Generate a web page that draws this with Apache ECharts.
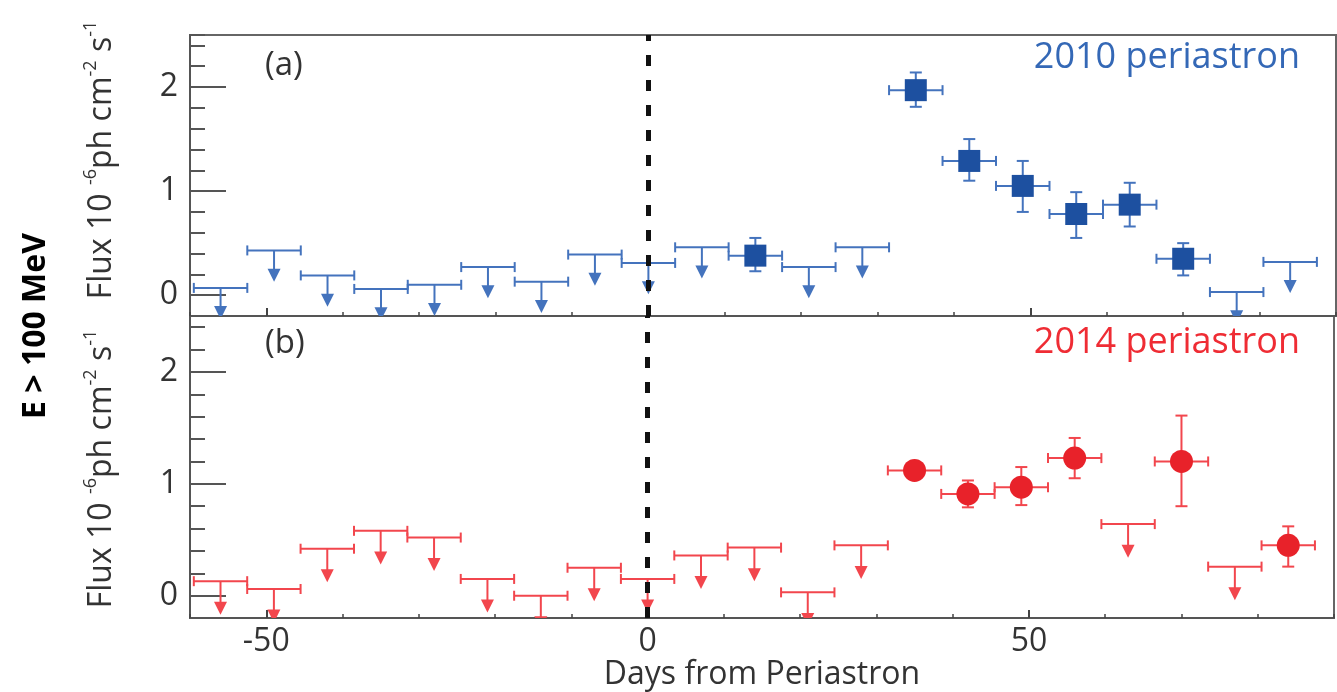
<!DOCTYPE html>
<html>
<head>
<meta charset="utf-8">
<script src="https://cdn.jsdelivr.net/npm/echarts@6/dist/echarts.min.js"></script>
<style>
  html, body { margin: 0; padding: 0; background: #fff; }
  #main { width: 1337px; height: 692px; }
</style>
</head>
<body>
<div id="main"></div>
<script>
// 7-day bins, centres in days from periastron
const binHalf = 3.5

// 2010 periastron: upper limits and detections
const ulDays2010 = [-56, -49, -42, -35, -28, -21, -14, -7, 0, 7, 21, 28, 77, 84]
const ulFlux2010 = [0.07, 0.43, 0.19, 0.06, 0.10, 0.27, 0.13, 0.39, 0.31, 0.46, 0.27, 0.46, 0.03, 0.32]
const detDays2010 = [14, 35, 42, 49, 56, 63, 70]
const detFlux2010 = [0.38, 1.97, 1.29, 1.05, 0.78, 0.87, 0.35]
const errUp2010 = [0.17, 0.17, 0.21, 0.24, 0.21, 0.21, 0.15]
const errDown2010 = [0.15, 0.16, 0.19, 0.25, 0.23, 0.21, 0.16]

// 2014 periastron
const ulDays2014 = [-56, -49, -42, -35, -28, -21, -14, -7, 0, 7, 14, 21, 28, 63, 77]
const ulFlux2014 = [0.13, 0.06, 0.42, 0.58, 0.52, 0.15, 0.00, 0.25, 0.15, 0.36, 0.43, 0.03, 0.45, 0.64, 0.26]
const detDays2014 = [35, 42, 49, 56, 70, 84]
const detFlux2014 = [1.12, 0.91, 0.97, 1.23, 1.20, 0.45]
const errUp2014 = [0.05, 0.12, 0.18, 0.18, 0.41, 0.17]
const errDown2014 = [0.05, 0.12, 0.16, 0.18, 0.40, 0.19]

const xTicksMajor = [-50, 0, 50]
const yTicksMajor = [0, 1, 2]
const arrowLen = 0.3 // length of the upper-limit arrow, flux units

const blueLine = '#4473bd'
const blueMark = '#1d50a0'
const redLine = '#f2464d'
const redMark = '#e8222a'
const font = 'Open Sans'

const chart = echarts.init(document.getElementById('main'))

function ulItem(color) {
  return (params, api) => {
    const x = api.value(0)
    const y = api.value(1)
    const a = api.coord([x - binHalf, y])
    const b = api.coord([x + binHalf, y])
    const c = api.coord([x, y])
    const tip = api.coord([x, y - arrowLen])
    const st = { stroke: color, lineWidth: 2 }
    return {
      type: 'group',
      children: [
        { type: 'line', shape: { x1: a[0], y1: a[1], x2: b[0], y2: b[1] }, style: st },
        { type: 'line', shape: { x1: a[0], y1: a[1] - 5, x2: a[0], y2: a[1] + 5 }, style: st },
        { type: 'line', shape: { x1: b[0], y1: b[1] - 5, x2: b[0], y2: b[1] + 5 }, style: st },
        { type: 'line', shape: { x1: c[0], y1: c[1], x2: tip[0], y2: tip[1] - 10 }, style: st },
        { type: 'polygon', shape: { points: [[tip[0] - 6.5, tip[1] - 13], [tip[0] + 6.5, tip[1] - 13], [tip[0], tip[1]]] }, style: { fill: color } },
      ],
    }
  }
}

function errItem(color) {
  return (params, api) => {
    const x = api.value(0)
    const y = api.value(1)
    const a = api.coord([x - binHalf, y])
    const b = api.coord([x + binHalf, y])
    const lo = api.coord([x, y - api.value(2)])
    const hi = api.coord([x, y + api.value(3)])
    const st = { stroke: color, lineWidth: 2 }
    return {
      type: 'group',
      children: [
        { type: 'line', shape: { x1: a[0], y1: a[1], x2: b[0], y2: b[1] }, style: st },
        { type: 'line', shape: { x1: a[0], y1: a[1] - 5, x2: a[0], y2: a[1] + 5 }, style: st },
        { type: 'line', shape: { x1: b[0], y1: b[1] - 5, x2: b[0], y2: b[1] + 5 }, style: st },
        { type: 'line', shape: { x1: lo[0], y1: lo[1], x2: hi[0], y2: hi[1] }, style: st },
        { type: 'line', shape: { x1: lo[0] - 6, y1: lo[1], x2: lo[0] + 6, y2: lo[1] }, style: st },
        { type: 'line', shape: { x1: hi[0] - 6, y1: hi[1], x2: hi[0] + 6, y2: hi[1] }, style: st },
      ],
    }
  }
}

const intLabel = (v) => (Math.abs(v - Math.round(v)) < 1e-6 ? String(Math.round(v)) : '')

function xAxes(grid, labels) {
  return [
    {
      type: 'value', gridIndex: grid, min: -60, max: 90, interval: 10, position: 'bottom',
      axisLine: { show: true, onZero: false, lineStyle: { color: '#555', width: 2 } },
      axisTick: { inside: true, length: 4, lineStyle: { color: '#444', width: 1.5 } },
      axisLabel: {
        show: labels, margin: 8, fontSize: 32, color: '#333', fontFamily: font,
        formatter: (v) => (xTicksMajor.indexOf(Math.round(v)) >= 0 ? String(Math.round(v)) : ''),
      },
      splitLine: { show: false },
      name: labels ? 'Days from Periastron' : '',
      nameLocation: 'middle',
      nameGap: 36,
      nameTextStyle: { fontSize: 32, color: '#333', fontFamily: font },
    },
    {
      type: 'value', gridIndex: grid, min: -60, max: 90, position: 'bottom',
      axisLine: { show: false, onZero: false },
      axisTick: { inside: true, length: 8, customValues: xTicksMajor, lineStyle: { color: '#444', width: 2 } },
      axisLabel: { show: false },
      splitLine: { show: false },
    },
  ]
}

function yAxes(grid) {
  return [
    {
      type: 'value', gridIndex: grid, min: -0.2, max: 2.5, interval: 0.2, position: 'left',
      axisLine: { show: true, onZero: false, lineStyle: { color: '#555', width: 2 } },
      axisTick: { inside: true, length: 15, lineStyle: { color: '#555', width: 2 } },
      axisLabel: { margin: 12, fontSize: 32, color: '#333', fontFamily: font, formatter: intLabel },
      splitLine: { show: false },
    },
    {
      type: 'value', gridIndex: grid, min: -0.2, max: 2.5, position: 'left',
      axisLine: { show: false, onZero: false },
      axisTick: { inside: true, length: 36, customValues: yTicksMajor, lineStyle: { color: '#555', width: 2 } },
      axisLabel: { show: false },
      splitLine: { show: false },
    },
  ]
}

const zipUL = (d, f) => d.map((x, i) => [x, f[i]])
const zipDet = (d, f, dn, up) => d.map((x, i) => [x, f[i], dn[i], up[i]])

const periLine = {
  silent: true,
  symbol: ['none', 'none'],
  label: { show: false },
  lineStyle: { color: '#111', width: 5, type: [11, 14] },
  data: [{ xAxis: 0 }],
}

const fluxTitle = '{n|Flux 10 }{s|-6}{n|ph cm}{s|-2}{n| s}{s|-1}'
const fluxRich = {
  n: { fontSize: 32, fontFamily: font, fill: '#333', color: '#333', lineHeight: 40, verticalAlign: 'middle' },
  s: { fontSize: 18, fontFamily: font, fill: '#333', color: '#333', lineHeight: 18, verticalAlign: 'top' },
}

const options = {
  animation: false,
  textStyle: { fontFamily: font },
  grid: [
    { left: 190, right: 1, top: 35, height: 281, show: true, borderColor: '#666', borderWidth: 2, containLabel: false },
    { left: 190, right: 1, top: 316, height: 309, show: true, borderColor: '#666', borderWidth: 2, containLabel: false },
  ],
  xAxis: [...xAxes(0, false), ...xAxes(1, true)],
  yAxis: [...yAxes(0), ...yAxes(1)],
  graphic: [
    { type: 'text', x: 265, y: 66, style: { text: '(a)', fontSize: 33, fontFamily: font, fill: '#333', verticalAlign: 'middle', textVerticalAlign: 'middle' } },
    { type: 'text', x: 265, y: 344, style: { text: '(b)', fontSize: 33, fontFamily: font, fill: '#333', verticalAlign: 'middle', textVerticalAlign: 'middle' } },
    { type: 'text', x: 1300, y: 58, style: { text: '2010 periastron', fontSize: 36, fontFamily: font, fill: '#3468b6', align: 'right', textAlign: 'right', verticalAlign: 'middle', textVerticalAlign: 'middle' } },
    { type: 'text', x: 1300, y: 343, style: { text: '2014 periastron', fontSize: 36, fontFamily: font, fill: '#ef2c34', align: 'right', textAlign: 'right', verticalAlign: 'middle', textVerticalAlign: 'middle' } },
    { type: 'text', x: 36, y: 326, rotation: Math.PI / 2, style: { text: 'E > 100 MeV', fontSize: 32, fontWeight: 'bold', fontFamily: font, fill: '#000', align: 'center', textAlign: 'center', verticalAlign: 'middle', textVerticalAlign: 'middle' } },
    { type: 'text', x: 102, y: 160, rotation: Math.PI / 2, style: { text: fluxTitle, rich: fluxRich, align: 'center', textAlign: 'center', verticalAlign: 'middle', textVerticalAlign: 'middle' } },
    { type: 'text', x: 102, y: 469, rotation: Math.PI / 2, style: { text: fluxTitle, rich: fluxRich, align: 'center', textAlign: 'center', verticalAlign: 'middle', textVerticalAlign: 'middle' } },
  ],
  series: [
    {
      name: 'UL 2010', type: 'custom', xAxisIndex: 0, yAxisIndex: 0, clip: true,
      renderItem: ulItem(blueLine), data: zipUL(ulDays2010, ulFlux2010), markLine: periLine,
    },
    {
      name: 'err 2010', type: 'custom', xAxisIndex: 0, yAxisIndex: 0, clip: true,
      renderItem: errItem(blueLine), data: zipDet(detDays2010, detFlux2010, errDown2010, errUp2010),
    },
    {
      name: '2010', type: 'scatter', xAxisIndex: 0, yAxisIndex: 0, symbol: 'rect', symbolSize: 22,
      itemStyle: { color: blueMark, opacity: 1 }, data: zipUL(detDays2010, detFlux2010), z: 3,
    },
    {
      name: 'UL 2014', type: 'custom', xAxisIndex: 2, yAxisIndex: 2, clip: true,
      renderItem: ulItem(redLine), data: zipUL(ulDays2014, ulFlux2014), markLine: periLine,
    },
    {
      name: 'err 2014', type: 'custom', xAxisIndex: 2, yAxisIndex: 2, clip: true,
      renderItem: errItem(redLine), data: zipDet(detDays2014, detFlux2014, errDown2014, errUp2014),
    },
    {
      name: '2014', type: 'scatter', xAxisIndex: 2, yAxisIndex: 2, symbol: 'circle', symbolSize: 23,
      itemStyle: { color: redMark, opacity: 1 }, data: zipUL(detDays2014, detFlux2014), z: 3,
    },
  ],
}

chart.setOption(options)
</script>
</body>
</html>
